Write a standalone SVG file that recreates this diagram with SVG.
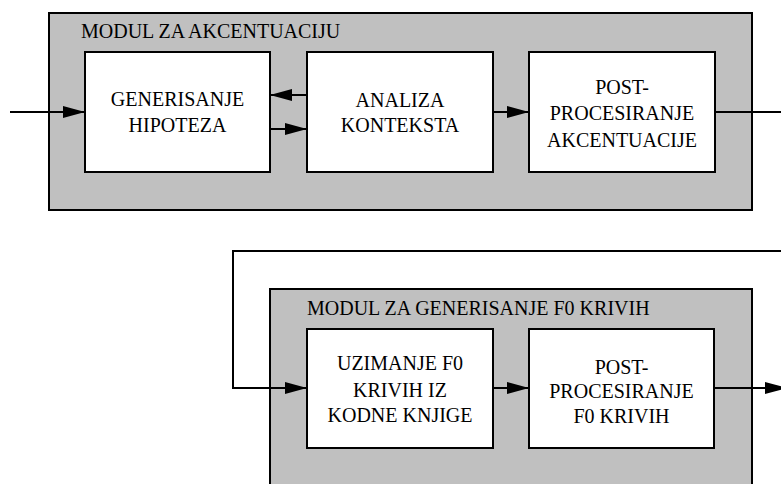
<svg xmlns="http://www.w3.org/2000/svg" width="781" height="484" viewBox="0 0 781 484">
<defs>
<style>
.mod{fill:#c0c0c0;stroke:#000;stroke-width:2}
.box{fill:#fff;stroke:#000;stroke-width:2}
.t{font-family:"Liberation Serif","Times New Roman",serif;font-size:20px;fill:#000}
.c{text-anchor:middle}
.ln{fill:none;stroke:#000;stroke-width:2}
</style>
<marker id="ah" markerWidth="22" markerHeight="12" refX="22" refY="6" orient="auto" markerUnits="userSpaceOnUse">
<path d="M0,0 L22,6 L0,12 Z" fill="#000"/>
</marker>
</defs>
<rect width="781" height="484" fill="#fff"/>
<g id="modul-akcentuacija">
<rect class="mod" x="49" y="13" width="703" height="197"/>
<text class="t" x="81" y="38">MODUL ZA AKCENTUACIJU</text>
</g>
<g id="generisanje">
<rect class="box" x="85" y="52" width="185" height="120"/>
<text class="t c" x="177.5" y="106">GENERISANJE</text>
<text class="t c" x="177.5" y="132">HIPOTEZA</text>
</g>
<g id="analiza">
<rect class="box" x="307" y="52" width="186" height="120"/>
<text class="t c" x="400" y="107">ANALIZA</text>
<text class="t c" x="400" y="132">KONTEKSTA</text>
</g>
<g id="post-akc">
<rect class="box" x="529" y="52" width="186" height="120"/>
<text class="t c" x="622" y="94">POST-</text>
<text class="t c" x="622" y="120">PROCESIRANJE</text>
<text class="t c" x="622" y="147">AKCENTUACIJE</text>
</g>
<g id="modul-f0">
<rect class="mod" x="270" y="289" width="482" height="220"/>
<text class="t" x="307" y="315">MODUL ZA GENERISANJE F0 KRIVIH</text>
</g>
<g id="uzimanje">
<rect class="box" x="307" y="329" width="186" height="119"/>
<text class="t c" x="400" y="370">UZIMANJE F0</text>
<text class="t c" x="400" y="397">KRIVIH IZ</text>
<text class="t c" x="400" y="422">KODNE KNJIGE</text>
</g>
<g id="post-f0">
<rect class="box" x="529" y="329" width="185" height="119"/>
<text class="t c" x="621.5" y="374">POST-</text>
<text class="t c" x="621.5" y="398">PROCESIRANJE</text>
<text class="t c" x="621.5" y="423">F0 KRIVIH</text>
</g>
<g id="connectors">
<line class="ln" x1="10" y1="112" x2="85" y2="112" marker-end="url(#ah)"/>
<line class="ln" x1="307" y1="95" x2="270" y2="95" marker-end="url(#ah)"/>
<line class="ln" x1="270" y1="129" x2="307" y2="129" marker-end="url(#ah)"/>
<line class="ln" x1="493" y1="112" x2="529" y2="112" marker-end="url(#ah)"/>
<line class="ln" x1="715" y1="112" x2="781" y2="112"/>
<polyline class="ln" points="781,251 233,251 233,388 307,388" marker-end="url(#ah)"/>
<line class="ln" x1="493" y1="388" x2="529" y2="388" marker-end="url(#ah)"/>
<line class="ln" x1="714" y1="388" x2="787" y2="388" marker-end="url(#ah)"/>
</g>
</svg>
